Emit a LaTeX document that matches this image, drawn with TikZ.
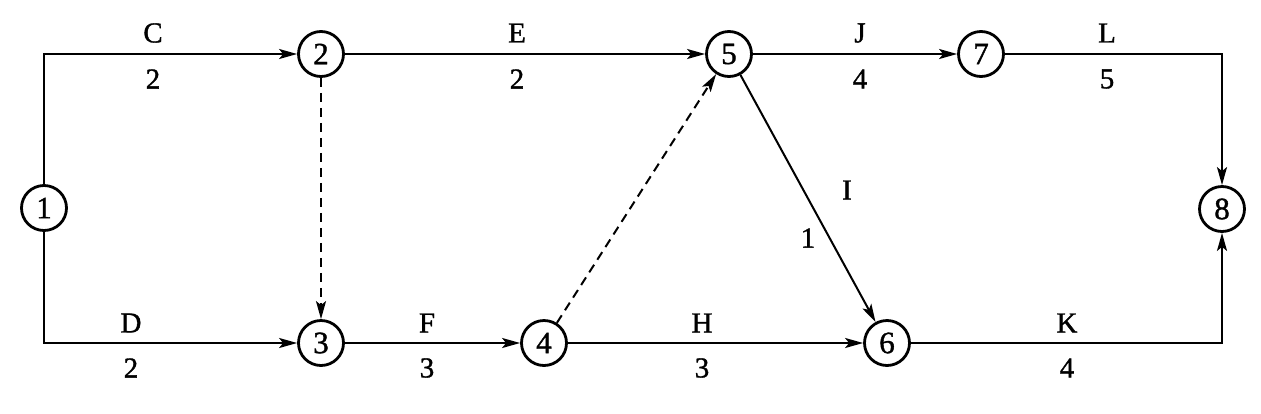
\documentclass[tikz,border=0pt]{standalone}
\usepackage{fontspec}
\setmainfont{Liberation Serif}
\newfontfamily\labfont{Liberation Serif}[FakeBold=1.2]
\usetikzlibrary{arrows.meta}
\begin{document}
\begin{tikzpicture}[x=1pt,y=-1pt,
  ev/.style={circle,draw,line width=2.8pt,minimum size=45pt,inner sep=0pt,font=\labfont\fontsize{31}{31}\selectfont},
  arr/.style={line width=2pt,-{Stealth[length=18pt,width=10pt,inset=4pt]}},
  dsh/.style={dash pattern=on 9pt off 6pt},
  lab/.style={font=\labfont\fontsize{29}{29}\selectfont,inner sep=0pt}]
\useasboundingbox (0,0) rectangle (1261,413);
\node[ev] (n1) at (44,208) {1};
\node[ev] (n2) at (321,54) {2};
\node[ev] (n3) at (321,343) {3};
\node[ev] (n4) at (544,343) {4};
\node[ev] (n5) at (729,54) {5};
\node[ev] (n6) at (887,343) {6};
\node[ev] (n7) at (981,54) {7};
\node[ev] (n8) at (1222,209) {8};
\draw[arr] (n1) |- (n2);
\draw[arr] (n1) |- (n3);
\draw[arr,dsh] (n2) -- (n3);
\draw[arr] (n2) -- (n5);
\draw[arr] (n3) -- (n4);
\draw[arr,dsh] (n4) -- (n5);
\draw[arr] (n4) -- (n6);
\draw[arr] (n5) -- (n6);
\draw[arr] (n5) -- (n7);
\draw[arr] (n7) -| (n8);
\draw[arr] (n6) -| (n8);
\node[lab] (lC) at (153,33) {C};
\node[lab] (dC) at (153,79) {2};
\node[lab] (lD) at (131,323) {D};
\node[lab] (dD) at (131,368) {2};
\node[lab] (lE) at (517,33) {E};
\node[lab] (dE) at (517,79) {2};
\node[lab] (lF) at (427,323) {F};
\node[lab] (dF) at (427,368) {3};
\node[lab] (lH) at (702,323) {H};
\node[lab] (dH) at (702,368) {3};
\node[lab] (lJ) at (860,33) {J};
\node[lab] (dJ) at (860,79) {4};
\node[lab] (lL) at (1107,33) {L};
\node[lab] (dL) at (1107,79) {5};
\node[lab] (lK) at (1067,323) {K};
\node[lab] (dK) at (1067,368) {4};
\node[lab] (lI) at (847,190) {I};
\node[lab] (dI) at (808,238) {1};
\end{tikzpicture}
\end{document}
